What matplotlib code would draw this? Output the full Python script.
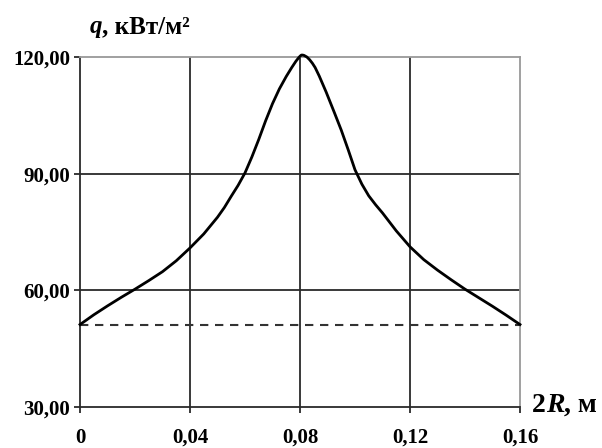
import matplotlib
matplotlib.use("Agg")
import matplotlib.pyplot as plt

# data
diam = [0.0, 0.005, 0.01, 0.015, 0.02, 0.025, 0.03, 0.035, 0.04, 0.045, 0.05, 0.0525, 0.055,
        0.0575, 0.06, 0.0625, 0.065, 0.0675, 0.07, 0.0725, 0.075, 0.077, 0.0785, 0.0795,
        0.080, 0.0805, 0.081, 0.0815, 0.0825, 0.0835, 0.0845, 0.0855, 0.087, 0.0895,
        0.0925, 0.095, 0.0975, 0.10, 0.1025,
        0.105, 0.1075, 0.11, 0.115, 0.12, 0.125, 0.13, 0.135, 0.14, 0.145, 0.15, 0.155, 0.16]
q_vals = [51.2, 53.7, 56.0, 58.2, 60.3, 62.5, 64.8, 67.6, 70.9, 74.5, 78.8, 81.3, 84.2,
          87.0, 90.2, 94.3, 98.8, 103.6, 108.0, 111.8, 115.0, 117.3, 118.9, 119.8,
          120.2, 120.5, 120.5, 120.4, 120.0, 119.3, 118.4, 117.3, 115.1, 111.0,
          105.7, 101.2, 96.2, 91.0, 87.3,
          84.3, 82.0, 79.9, 75.3, 71.2, 67.9, 65.2, 62.7, 60.3, 58.1, 55.9, 53.6, 51.2]
base_level = 51.2
x_ticks = [0.0, 0.04, 0.08, 0.12, 0.16]
x_labels = ["0", "0,04", "0,08", "0,12", "0,16"]
y_ticks = [30, 60, 90, 120]
y_labels = ["30,00", "60,00", "90,00", "120,00"]

SERIF = "Liberation Serif"
fig = plt.figure(figsize=(6.02, 4.48), dpi=100)
ax = fig.add_axes([80/602, 1-407/448, 440/602, 350/448])
ax.set_xlim(0, 0.16)
ax.set_ylim(30, 120)

# grid
for xv in x_ticks[1:-1]:
    ax.axvline(xv, color="#2a2a2a", lw=1.3, zorder=1)
for yv in y_ticks[1:-1]:
    ax.axhline(yv, color="#2a2a2a", lw=1.3, zorder=1)

ax.axhline(base_level, color="#333333", lw=1.5, ls=(0, (4, 3.2)), zorder=2)
ax.plot(diam, q_vals, color="black", lw=2.0, zorder=3, solid_joinstyle="round",
        clip_on=False)

for side in ["top", "right"]:
    ax.spines[side].set_color("#999999")
    ax.spines[side].set_linewidth(1.3)
for side in ["left", "bottom"]:
    ax.spines[side].set_color("#2a2a2a")
    ax.spines[side].set_linewidth(1.3)

ax.set_xticks(x_ticks)
ax.set_xticklabels(x_labels)
ax.set_yticks(y_ticks)
ax.set_yticklabels(y_labels)
ax.tick_params(axis="both", direction="out", length=4, width=1.3, color="#2a2a2a")
ax.tick_params(axis="x", pad=11)
ax.tick_params(axis="y", pad=3)
for lab in ax.get_xticklabels() + ax.get_yticklabels():
    lab.set_fontfamily(SERIF)
    lab.set_fontweight("bold")
    lab.set_fontsize(15)

# y-axis label
t1 = fig.text(90/602, 1-33/448, "q", family=SERIF, style="italic", weight="bold",
              fontsize=18, ha="left", va="baseline")
ax.annotate(", кВт/м²", xy=(1, 0), xycoords=t1, family=SERIF, weight="bold",
            fontsize=18, ha="left", va="bottom")

# x-axis label
t2 = fig.text(532/602, 1-412/448, "2", family=SERIF, weight="bold",
              fontsize=20, ha="left", va="baseline")
t3 = ax.annotate("R", xy=(1, 0), xycoords=t2, family=SERIF, style="italic", weight="bold",
                 fontsize=20, ha="left", va="bottom")
ax.annotate(", м", xy=(1, 0), xycoords=t3, family=SERIF, weight="bold",
            fontsize=20, ha="left", va="bottom")

fig.savefig("out.png", dpi=100, facecolor="white")
